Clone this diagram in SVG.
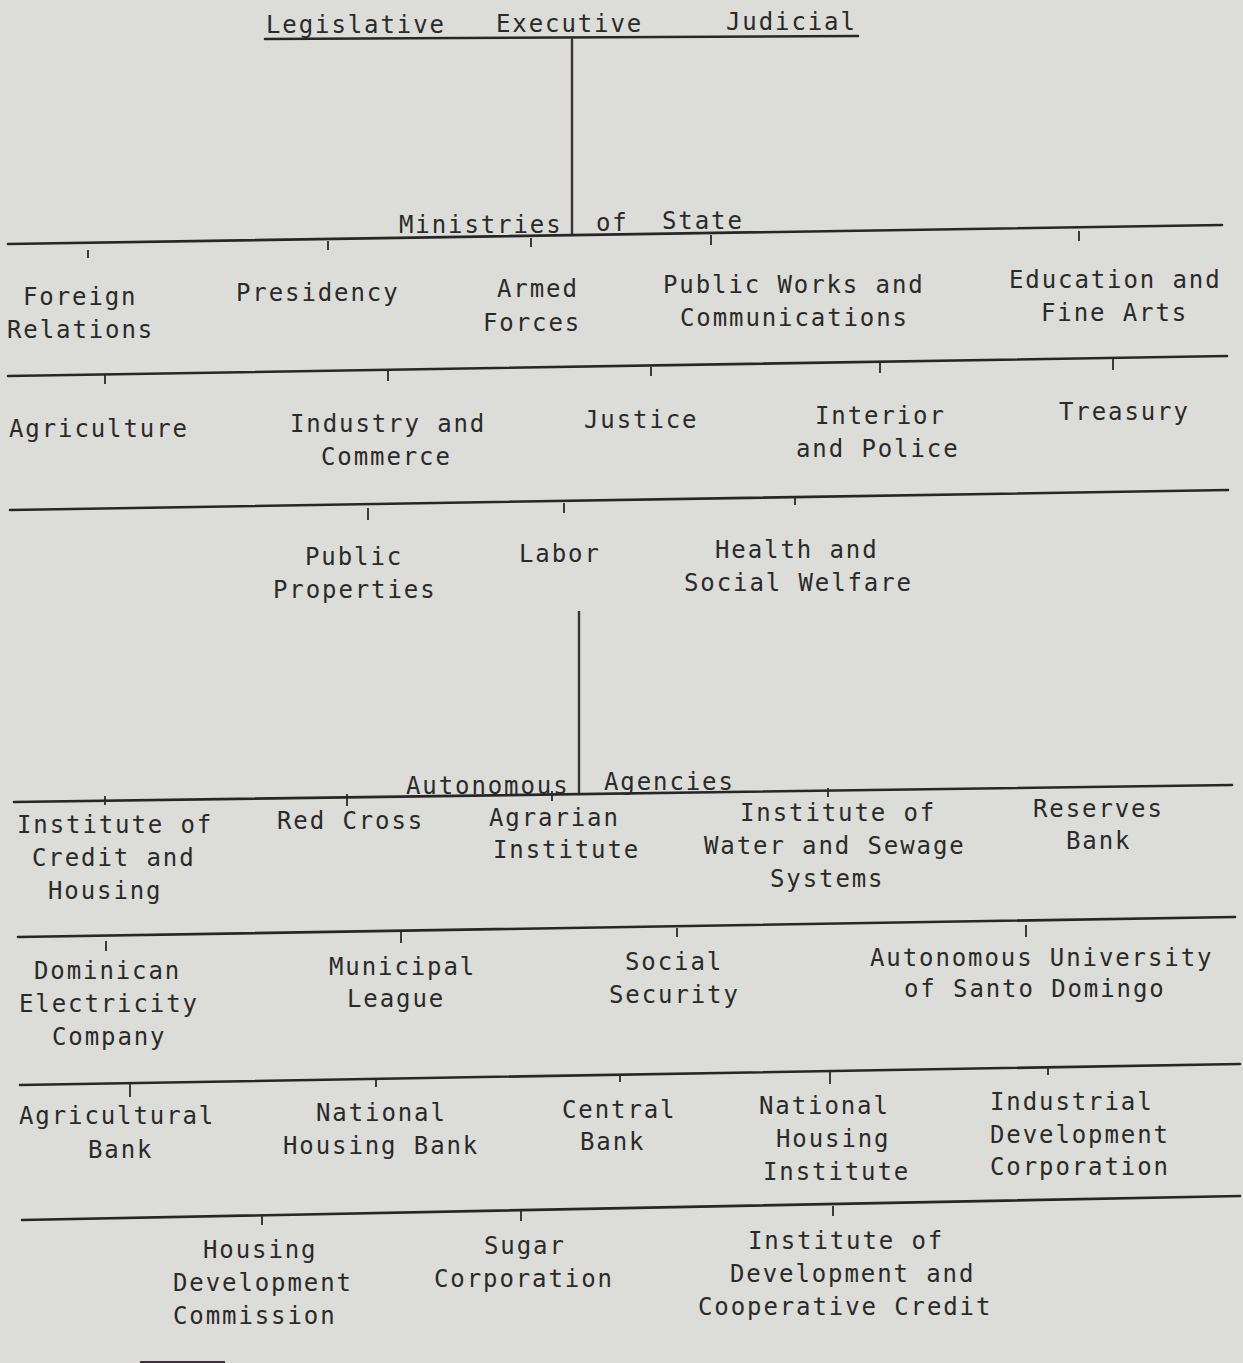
<svg xmlns="http://www.w3.org/2000/svg" width="1243" height="1363" viewBox="0 0 1243 1363">
<style>
text{font-family:"DejaVu Sans Mono","Liberation Mono",monospace;font-size:24px;letter-spacing:1.9px;fill:#2a2a2a}
.ln{stroke:#262626;stroke-width:2.6;fill:none;stroke-linecap:round}
.tk{stroke:#2a2a2a;stroke-width:1.8;fill:none}
.vt{stroke:#3a3438;stroke-width:2.4;fill:none}
</style>
<rect width="1243" height="1363" fill="#dcdcd8"/>
<g id="connectors">
<line class="ln" x1="265" y1="39" x2="858" y2="36"/>
<line class="vt" x1="572" y1="38" x2="572" y2="236"/>
<line class="ln" x1="8" y1="244" x2="1222" y2="225"/>
<line class="tk" x1="88" y1="250" x2="88" y2="258"/>
<line class="tk" x1="328" y1="241" x2="328" y2="250"/>
<line class="tk" x1="531" y1="238" x2="531" y2="247"/>
<line class="tk" x1="711" y1="235" x2="711" y2="245"/>
<line class="tk" x1="1079" y1="231" x2="1079" y2="241"/>
<line class="ln" x1="8" y1="376" x2="1227" y2="356"/>
<line class="tk" x1="105" y1="375" x2="105" y2="384"/>
<line class="tk" x1="388" y1="371" x2="388" y2="381"/>
<line class="tk" x1="651" y1="367" x2="651" y2="376"/>
<line class="tk" x1="880" y1="363" x2="880" y2="373"/>
<line class="tk" x1="1113" y1="359" x2="1113" y2="370"/>
<line class="ln" x1="10" y1="510" x2="1228" y2="490"/>
<line class="tk" x1="368" y1="508" x2="368" y2="520"/>
<line class="tk" x1="564" y1="503" x2="564" y2="513"/>
<line class="tk" x1="795" y1="497" x2="795" y2="505"/>
<line class="vt" x1="579" y1="611" x2="579" y2="793"/>
<line class="ln" x1="14" y1="802" x2="1232" y2="785"/>
<line class="tk" x1="105" y1="796" x2="105" y2="805"/>
<line class="tk" x1="347" y1="794" x2="347" y2="806"/>
<line class="tk" x1="552" y1="791" x2="552" y2="801"/>
<line class="tk" x1="828" y1="788" x2="828" y2="797"/>
<line class="ln" x1="18" y1="937" x2="1235" y2="917"/>
<line class="tk" x1="106" y1="941" x2="106" y2="951"/>
<line class="tk" x1="401" y1="932" x2="401" y2="943"/>
<line class="tk" x1="677" y1="928" x2="677" y2="937"/>
<line class="tk" x1="1026" y1="925" x2="1026" y2="937"/>
<line class="ln" x1="20" y1="1085" x2="1240" y2="1064"/>
<line class="tk" x1="130" y1="1084" x2="130" y2="1097"/>
<line class="tk" x1="376" y1="1079" x2="376" y2="1087"/>
<line class="tk" x1="620" y1="1074" x2="620" y2="1082"/>
<line class="tk" x1="830" y1="1070" x2="830" y2="1084"/>
<line class="tk" x1="1048" y1="1066" x2="1048" y2="1075"/>
<line class="ln" x1="22" y1="1220" x2="1240" y2="1196"/>
<line class="tk" x1="262" y1="1214" x2="262" y2="1225"/>
<line class="tk" x1="521" y1="1211" x2="521" y2="1221"/>
<line class="tk" x1="833" y1="1206" x2="833" y2="1216"/>
<line x1="140" y1="1362" x2="225" y2="1362" stroke="#3a3438" stroke-width="2"/>
</g>
<g id="branches">
<text x="266" y="33">Legislative</text>
<text x="496" y="32">Executive</text>
<text x="726" y="30">Judicial</text>
</g>
<g id="ministries-header">
<text x="399" y="233">Ministries</text>
<text x="596" y="231">of</text>
<text x="662" y="229">State</text>
</g>
<g id="foreign-relations"><text x="23" y="305">Foreign</text><text x="7" y="338">Relations</text></g>
<g id="presidency"><text x="236" y="301">Presidency</text></g>
<g id="armed-forces"><text x="497" y="297">Armed</text><text x="483" y="331">Forces</text></g>
<g id="public-works"><text x="663" y="293">Public Works and</text><text x="680" y="326">Communications</text></g>
<g id="education"><text x="1009" y="288">Education and</text><text x="1041" y="321">Fine Arts</text></g>
<g id="agriculture"><text x="9" y="437">Agriculture</text></g>
<g id="industry"><text x="290" y="432">Industry and</text><text x="321" y="465">Commerce</text></g>
<g id="justice"><text x="584" y="428">Justice</text></g>
<g id="interior"><text x="815" y="424">Interior</text><text x="796" y="457">and Police</text></g>
<g id="treasury"><text x="1059" y="420">Treasury</text></g>
<g id="public-properties"><text x="305" y="565">Public</text><text x="273" y="598">Properties</text></g>
<g id="labor"><text x="519" y="562">Labor</text></g>
<g id="health"><text x="715" y="558">Health and</text><text x="684" y="591">Social Welfare</text></g>
<g id="autonomous-header">
<text x="406" y="794">Autonomous</text>
<text x="604" y="790">Agencies</text>
</g>
<g id="credit-housing"><text x="17" y="833">Institute of</text><text x="32" y="866">Credit and</text><text x="48" y="899">Housing</text></g>
<g id="red-cross"><text x="277" y="829">Red Cross</text></g>
<g id="agrarian"><text x="489" y="826">Agrarian</text><text x="493" y="858">Institute</text></g>
<g id="water"><text x="740" y="821">Institute of</text><text x="704" y="854">Water and Sewage</text><text x="770" y="887">Systems</text></g>
<g id="reserves"><text x="1033" y="817">Reserves</text><text x="1066" y="849">Bank</text></g>
<g id="electricity"><text x="34" y="979">Dominican</text><text x="19" y="1012">Electricity</text><text x="52" y="1045">Company</text></g>
<g id="municipal"><text x="329" y="975">Municipal</text><text x="347" y="1007">League</text></g>
<g id="social-security"><text x="625" y="970">Social</text><text x="609" y="1003">Security</text></g>
<g id="university"><text x="870" y="966">Autonomous University</text><text x="904" y="997">of Santo Domingo</text></g>
<g id="agricultural-bank"><text x="19" y="1124">Agricultural</text><text x="88" y="1158">Bank</text></g>
<g id="national-housing-bank"><text x="316" y="1121">National</text><text x="283" y="1154">Housing Bank</text></g>
<g id="central-bank"><text x="562" y="1118">Central</text><text x="580" y="1150">Bank</text></g>
<g id="housing-institute"><text x="759" y="1114">National</text><text x="776" y="1147">Housing</text><text x="763" y="1180">Institute</text></g>
<g id="industrial"><text x="990" y="1110">Industrial</text><text x="990" y="1143">Development</text><text x="990" y="1175">Corporation</text></g>
<g id="housing-commission"><text x="203" y="1258">Housing</text><text x="173" y="1291">Development</text><text x="173" y="1324">Commission</text></g>
<g id="sugar"><text x="484" y="1254">Sugar</text><text x="434" y="1287">Corporation</text></g>
<g id="cooperative"><text x="748" y="1249">Institute of</text><text x="730" y="1282">Development and</text><text x="698" y="1315">Cooperative Credit</text></g>
</svg>
